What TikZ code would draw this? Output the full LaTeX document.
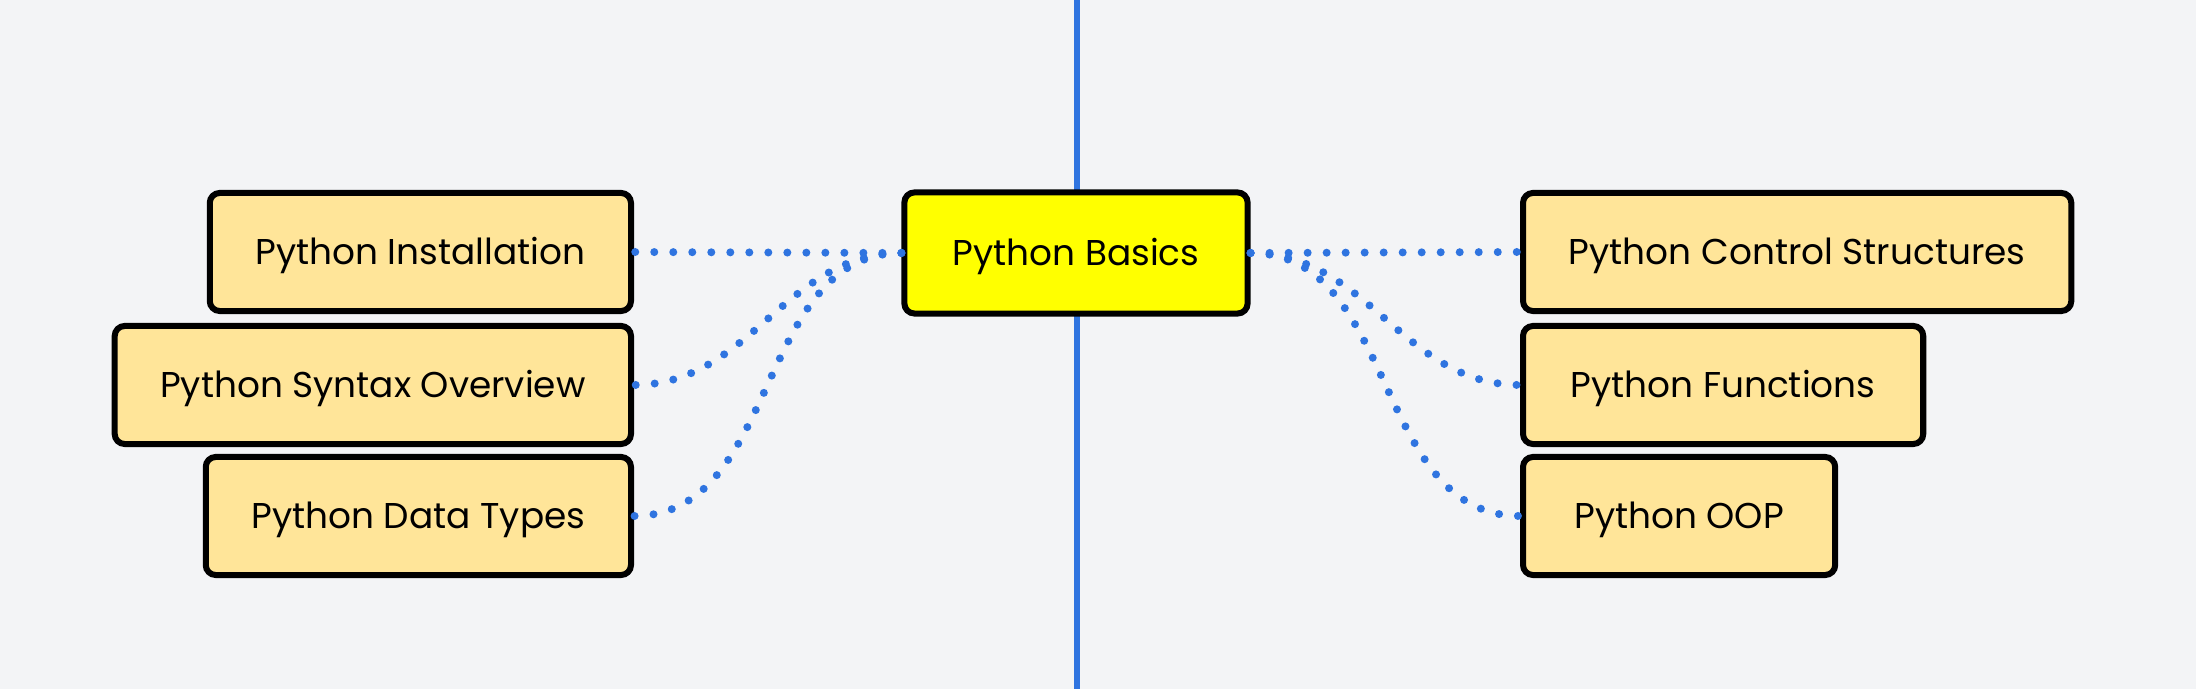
\documentclass[tikz,border=0pt]{standalone}
\usepackage{fontspec}
\setmainfont{Poppins}
\definecolor{bgcol}{HTML}{F3F4F6}
\definecolor{linkblue}{HTML}{2F74E0}
\definecolor{topicfill}{HTML}{FFE599}
\definecolor{rootfill}{HTML}{FFFF00}
\begin{document}
\begin{tikzpicture}[x=0.01cm,y=-0.01cm]
    \tikzstyle{topic}=[draw=black, line width=0.06cm, rounded corners=0.1cm, fill=topicfill, minimum height=1.18cm, text height=0.7em, text depth=0pt, font=\fontsize{10.2}{12}\selectfont]
    \tikzstyle{root}=[topic, fill=rootfill, minimum width=3.43cm, minimum height=1.21cm]
    \tikzstyle{link}=[linkblue, line width=0.08cm, line cap=round, dash pattern=on 0pt off 0.19cm]

    \fill[bgcol] (0,0) rectangle (2196,689);
    \useasboundingbox (0,0) rectangle (2196,689);

    % the axis behind the root
    \coordinate (axtop) at (1077,0);
    \coordinate (axbot) at (1077,689);
    \draw[linkblue, line width=0.055cm] (axtop) -- (axbot);

    \node[root] (basics) at (1076,253) {Python Basics};

    \node[topic, anchor=east, minimum width=4.21cm] (install) at (634,252) {Python Installation};
    \node[topic, anchor=east, minimum width=5.16cm] (syntax) at (634,385) {Python Syntax Overview};
    \node[topic, anchor=east, minimum width=4.25cm] (dtypes) at (634,516) {Python Data Types};

    \node[topic, anchor=west, minimum width=5.48cm] (control) at (1520,252) {Python Control Structures};
    \node[topic, anchor=west, minimum width=4.00cm] (funcs) at (1520,385) {Python Functions};
    \node[topic, anchor=west, minimum width=3.12cm] (oop) at (1520,516) {Python OOP};

    \draw[link] (basics.west) -- (install.east);
    \draw[link] (basics.west) to[out=180,in=0] (syntax.east);
    \draw[link] (basics.west) to[out=180,in=0] (dtypes.east);
    \draw[link] (basics.east) -- (control.west);
    \draw[link] (basics.east) to[out=0,in=180] (funcs.west);
    \draw[link] (basics.east) to[out=0,in=180] (oop.west);
\end{tikzpicture}
\end{document}
